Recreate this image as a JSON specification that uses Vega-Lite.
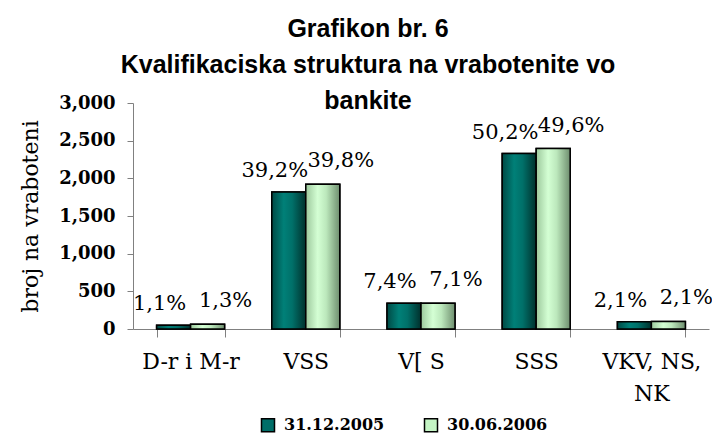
{
  "$schema": "https://vega.github.io/schema/vega-lite/v6.json",
  "width": 576,
  "height": 226,
  "autosize": {"type": "none"},
  "padding": {"left": 133, "top": 103, "right": 3, "bottom": 110},
  "background": "white",
  "title": {
    "text": ["Grafikon br. 6", "Kvalifikaciska struktura na vrabotenite vo", "bankite"],
    "font": "Liberation Sans",
    "fontWeight": "bold",
    "fontSize": 25,
    "lineHeight": 36,
    "anchor": "middle",
    "dx": -53,
    "offset": -20,
    "color": "black"
  },
  "data": {
    "values": [
      {"cat": "D-r i M-r", "series": "31.12.2005", "value": 51, "pct": "1,1%"},
      {"cat": "D-r i M-r", "series": "30.06.2006", "value": 63, "pct": "1,3%"},
      {"cat": "VSS", "series": "31.12.2005", "value": 1819, "pct": "39,2%"},
      {"cat": "VSS", "series": "30.06.2006", "value": 1922, "pct": "39,8%"},
      {"cat": "V[  S", "series": "31.12.2005", "value": 343, "pct": "7,4%"},
      {"cat": "V[  S", "series": "30.06.2006", "value": 343, "pct": "7,1%"},
      {"cat": "SSS", "series": "31.12.2005", "value": 2329, "pct": "50,2%"},
      {"cat": "SSS", "series": "30.06.2006", "value": 2396, "pct": "49,6%"},
      {"cat": "VKV, NS, NK", "series": "31.12.2005", "value": 97, "pct": "2,1%"},
      {"cat": "VKV, NS, NK", "series": "30.06.2006", "value": 101, "pct": "2,1%"}
    ]
  },
  "encoding": {
    "x": {
      "field": "cat", "type": "nominal", "sort": null,
      "scale": {"paddingInner": 0.41, "paddingOuter": 0.205},
      "axis": {
        "title": null, "labelAngle": 0, "tickBand": "extent",
        "labelFont": "DejaVu Serif", "labelFontSize": 22, "labelColor": "black",
        "labelPadding": 14, "labelLineHeight": 32, "tickSize": 8,
        "domainColor": "#808080", "tickColor": "#808080",
        "labelExpr": "datum.value == 'VKV, NS, NK' ? ['VKV, NS,', 'NK'] : datum.value"
      }
    },
    "xOffset": {"field": "series", "type": "nominal", "sort": ["31.12.2005", "30.06.2006"]},
    "y": {
      "field": "value", "type": "quantitative",
      "scale": {"domain": [0, 3000]},
      "axis": {
        "title": "broj na vraboteni", "titleFont": "DejaVu Serif", "titleFontSize": 22,
        "titleFontWeight": "normal", "titleColor": "black", "titlePadding": 16,
        "labelFont": "DejaVu Serif", "labelFontSize": 18, "labelFontWeight": "bold",
        "labelColor": "black", "format": ",.0f", "values": [0, 500, 1000, 1500, 2000, 2500, 3000],
        "grid": false, "tickSize": 6, "labelPadding": 12,
        "domainColor": "#808080", "tickColor": "#808080"
      }
    }
  },
  "layer": [
    {
      "mark": {"type": "bar", "stroke": "black", "strokeWidth": 1.5},
      "encoding": {
        "fill": {
          "field": "series", "type": "nominal", "sort": ["31.12.2005", "30.06.2006"],
          "scale": {"domain": ["31.12.2005", "30.06.2006"], "range": ["#006E68", "#C4F4C4"]},
          "legend": {
            "title": null, "orient": "none", "legendX": 127, "legendY": 314, "direction": "horizontal",
            "symbolType": "square", "symbolSize": 169, "symbolStrokeColor": "black", "symbolStrokeWidth": 1.5,
            "labelFont": "DejaVu Serif", "labelFontSize": 16, "labelFontWeight": "bold",
            "labelColor": "black", "columnPadding": 36, "labelOffset": 8
          }
        }
      }
    },
    {
      "mark": {"type": "bar", "stroke": "black", "strokeWidth": 1.5},
      "encoding": {
        "fill": {
          "condition": {
            "test": "datum.series == '31.12.2005'",
            "value": {"gradient": "linear", "x1": 0, "x2": 1, "y1": 0, "y2": 0,
              "stops": [{"offset": 0, "color": "#004A45"}, {"offset": 0.35, "color": "#008078"}, {"offset": 0.6, "color": "#007069"}, {"offset": 1, "color": "#00302C"}]}
          },
          "value": {"gradient": "linear", "x1": 0, "x2": 1, "y1": 0, "y2": 0,
            "stops": [{"offset": 0, "color": "#9CC89C"}, {"offset": 0.35, "color": "#D4FFD4"}, {"offset": 0.6, "color": "#BCE8BC"}, {"offset": 1, "color": "#6E8E6E"}]}
        }
      }
    },
    {
      "transform": [{"filter": "datum.series == '31.12.2005'"}],
      "mark": {"type": "text", "baseline": "alphabetic", "dy": -15, "dx": -14, "font": "DejaVu Serif", "fontSize": 21, "color": "black"},
      "encoding": {"text": {"field": "pct"}}
    },
    {
      "transform": [{"filter": "datum.series == '30.06.2006'"}],
      "mark": {"type": "text", "baseline": "alphabetic", "dy": -17, "dx": 18, "font": "DejaVu Serif", "fontSize": 21, "color": "black"},
      "encoding": {"text": {"field": "pct"}}
    }
  ],
  "config": {"view": {"stroke": null}}
}
